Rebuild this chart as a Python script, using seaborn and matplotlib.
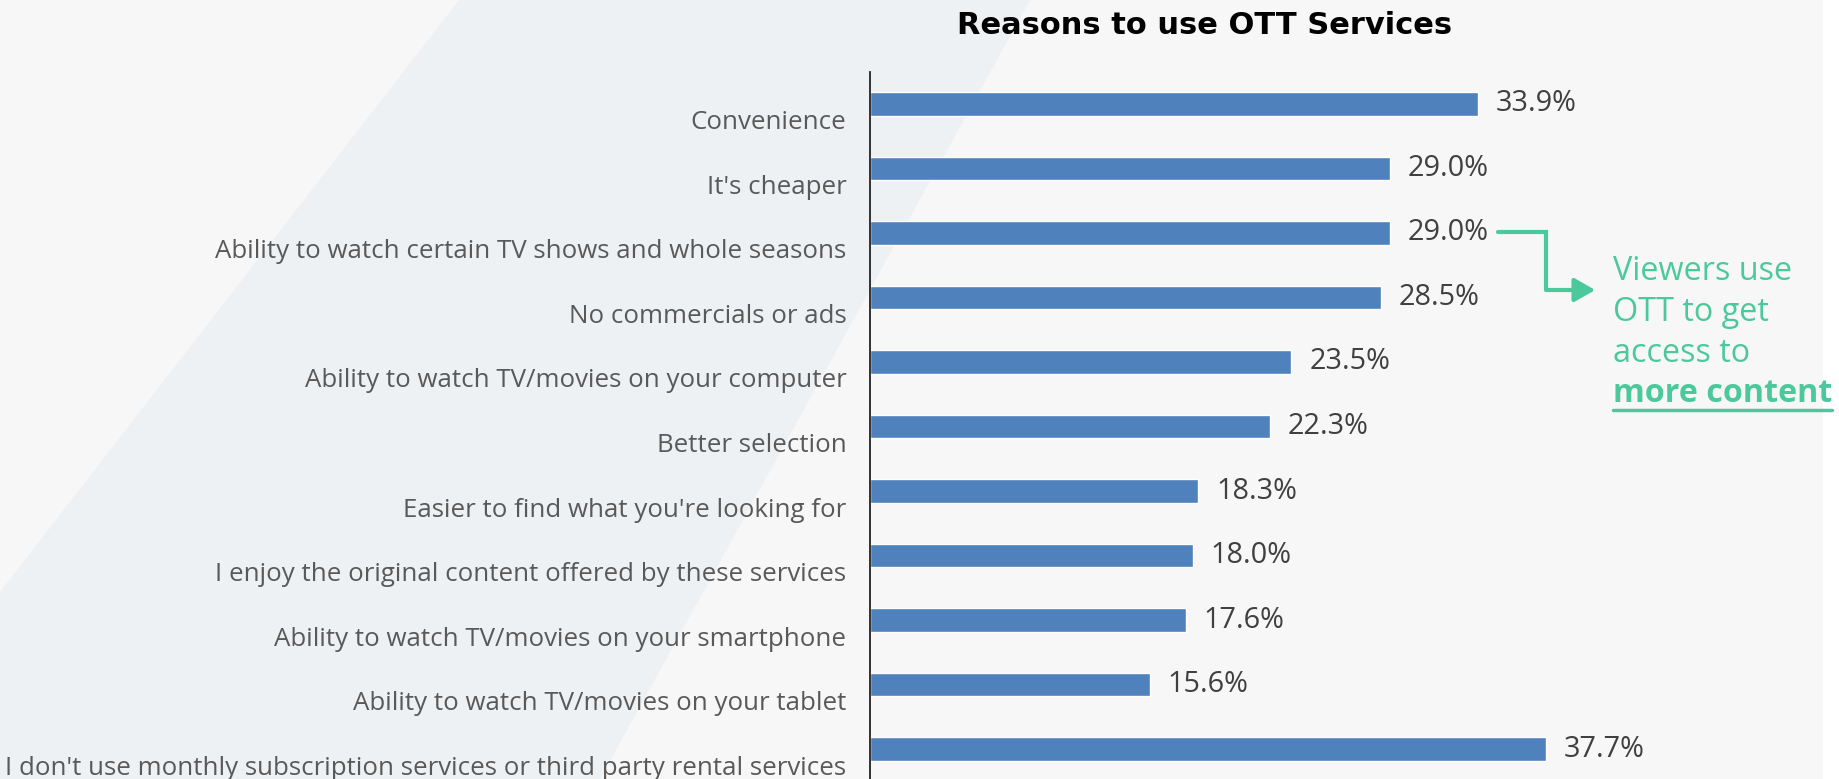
import numpy as np
import pandas as pd
import seaborn as sns
import matplotlib.pyplot as plt
from matplotlib.patches import Polygon, Rectangle, FancyArrowPatch
from matplotlib.lines import Line2D
from matplotlib.transforms import ScaledTranslation

# Data.
reasons = ['Convenience',
           "It's cheaper",
           'Ability to watch certain TV shows and whole seasons',
           'No commercials or ads',
           'Ability to watch TV/movies on your computer',
           'Better selection',
           "Easier to find what you're looking for",
           'I enjoy the original content offered by these services',
           'Ability to watch TV/movies on your smartphone',
           'Ability to watch TV/movies on your tablet',
           "I don't use monthly subscription services or third party rental services"]
shares = [33.9, 29.0, 29.0, 28.5, 23.5, 22.3, 18.3, 18.0, 17.6, 15.6, 37.7]
title = 'Reasons to use OTT Services'
note_lines = ['Viewers use', 'OTT to get', 'access to']
note_bold = 'more content'

W, H = 1839, 779
sns.set_style('white')
plt.rcParams['font.family'] = ['Open Sans', 'DejaVu Sans']

fig = plt.figure(figsize=(W / 100, H / 100), dpi=100)
fig.patch.set_facecolor('#f7f7f7')

# Decorative background band.
band = Polygon([(459 / W, 1), (1030 / W, 1), (600 / W, 0), (0, 0), (0, 1 - 592 / H)],
               closed=True, transform=fig.transFigure, facecolor='#eef1f4',
               edgecolor='none', zorder=-10)
fig.patches.append(band)
fig.patches.append(Rectangle((1823 / W, 0), 16 / W, 1, transform=fig.transFigure,
                             facecolor='white', edgecolor='none', zorder=-10))

ax = fig.add_axes([870 / W, 0, (1823 - 870) / W, 1 - 72 / H])
ax.patch.set_alpha(0)

df = pd.DataFrame({'reason': reasons, 'share': shares})
sns.barplot(data=df, x='share', y='reason', orient='h', color='#4f81bd',
            saturation=1, width=0.357, ax=ax)

ax.set_xlim(0, (1823 - 870) / 17.93)
ax.set_ylim(10.465, -0.496)
ax.set_xlabel('')
ax.set_ylabel('')
ax.set_xticks([])
for s in ['top', 'right', 'bottom']:
    ax.spines[s].set_visible(False)
ax.spines['left'].set_color('#222222')
ax.spines['left'].set_linewidth(1.3)

ax.tick_params(axis='y', length=0, pad=17, labelsize=18.6, labelcolor='#595959')
shift = ScaledTranslation(0, -16 / 100, fig.dpi_scale_trans)
for lab in ax.get_yticklabels():
    lab.set_transform(lab.get_transform() + shift)

vals = ax.bar_label(ax.containers[0], labels=['{0:.1f}%'.format(v) for v in shares],
                    padding=13, fontsize=20.8, color='#404040')
down = ScaledTranslation(0, -3 / 100, fig.dpi_scale_trans)
for t in vals:
    t.set_transform(t.get_transform() + down)

fig.text(1205 / W, 1 - 26 / H, title, ha='center', va='center',
         fontsize=22, fontweight='bold', color='black', family='DejaVu Sans')

# Annotation with elbow arrow.
green = '#4cc99c'
px = lambda x, y: (x / W, 1 - y / H)
fig.lines.append(Line2D([1498 / W, 1546 / W, 1546 / W], [1 - 232 / H, 1 - 232 / H, 1 - 290 / H],
                        transform=fig.transFigure, color=green, lw=3,
                        solid_joinstyle='miter'))
arr = FancyArrowPatch(px(1544, 290), px(1598, 290), transform=fig.transFigure,
                      arrowstyle='-|>,head_length=0.7,head_width=0.4',
                      mutation_scale=18, color=green, lw=3)
fig.patches.append(arr)

baselines = [280, 321, 362]
for txt, yb in zip(note_lines, baselines):
    fig.text(1613 / W, 1 - yb / H, txt, ha='left', va='baseline',
             fontsize=23.3, color=green)
bt = fig.text(1613 / W, 1 - 402 / H, note_bold, ha='left', va='baseline',
              fontsize=23.2, fontweight='bold', color=green)
fig.canvas.draw()
bb = bt.get_window_extent()
fig.lines.append(Line2D([bb.x0 / W, bb.x1 / W], [1 - 410 / H, 1 - 410 / H],
                        transform=fig.transFigure, color=green, lw=2.5))

fig.savefig('out.png', dpi=100, facecolor=fig.get_facecolor())
